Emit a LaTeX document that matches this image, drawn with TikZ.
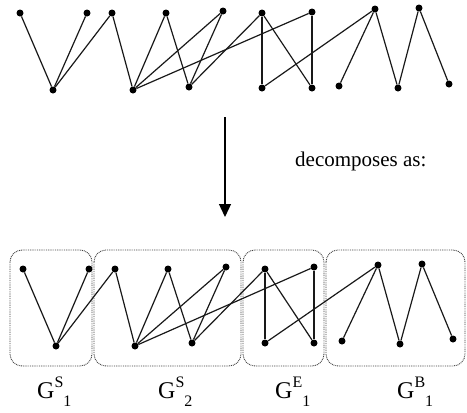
\documentclass[tikz,border=0pt]{standalone}
\usepackage{fontspec}
\setmainfont{Liberation Serif}
\usetikzlibrary{arrows.meta}
\newcommand\glabel[2]{G\raisebox{11pt}{\fontsize{16}{16}\selectfont #1}\raisebox{-8pt}{\fontsize{16}{16}\selectfont #2}}
\tikzset{
  vtx/.style={circle,fill=black,inner sep=0pt,minimum size=7pt},
  edge/.style={line width=1.2pt,black!90},
  part/.style={draw=black!75,line width=0.9pt,dash pattern=on 0.9pt off 0.9pt,rounded corners=12pt},
  lbl/.style={font=\fontsize{24}{28}\selectfont,inner sep=0pt}
}
\begin{document}
\begin{tikzpicture}[x=1pt,y=-1pt]
\useasboundingbox (0,0) rectangle (467,413);
% top graph
\foreach \n/\x/\y in {a1/20/13,a2/87/13,a3/112/13,a4/166/13,a5/223/11,
  b1/53/90,b2/133/90,b3/189/87,
  c1/262/13,c2/312/12,c3/375/9,c4/419/8,
  d1/262/88,d2/312/88,d3/339/86,d4/398/88,d5/449/84}
  \node[vtx] (\n) at (\x,\y) {};
\foreach \u/\v in {a1/b1,a2/b1,a3/b1,a3/b2,a4/b2,a5/b2,a4/b3,a5/b3,
  b2/c2,b3/c1,c1/d1,c1/d2,c2/d2,c3/d1,c3/d3,c3/d4,c4/d4,c4/d5}
  \draw[edge] (\u) -- (\v);
% arrow and text
\coordinate (s) at (225,117);
\coordinate (t) at (225,217);
\draw[line width=1.3pt,-{Triangle[length=13pt,width=12pt]}] (s) -- (t);
\node[anchor=base west,inner sep=0pt,font=\fontsize{21}{25}\selectfont] (dec) at (295,166) {decomposes as:};
% boxes
\draw[part] (10,250) rectangle (92,366);
\draw[part] (94,250) rectangle (241,366);
\draw[part] (243,250) rectangle (324,366);
\draw[part] (326,250) rectangle (465,366);
% bottom graph
\foreach \n/\x/\y in {A1/23/269,A2/89/269,A3/115/269,A4/168/269,A5/226/267,
  B1/56/346,B2/135/346,B3/192/343,
  C1/265/269,C2/314/267,C3/378/265,C4/422/264,
  D1/265/343,D2/314/343,D3/342/341,D4/400/344,D5/453/339}
  \node[vtx] (\n) at (\x,\y) {};
\foreach \u/\v in {A1/B1,A2/B1,A3/B1,A3/B2,A4/B2,A5/B2,A4/B3,A5/B3,
  B2/C2,B3/C1,C1/D1,C1/D2,C2/D2,C3/D1,C3/D3,C3/D4,C4/D4,C4/D5}
  \draw[edge] (\u) -- (\v);
% labels
\node[lbl,anchor=base west] (l1) at (37,398) {\glabel{S}{1}};
\node[lbl,anchor=base west] (l2) at (158,398) {\glabel{S}{2}};
\node[lbl,anchor=base west] (l3) at (275,398) {\glabel{E}{1}};
\node[lbl,anchor=base west] (l4) at (397,398) {\glabel{B}{1}};
\end{tikzpicture}
\end{document}
